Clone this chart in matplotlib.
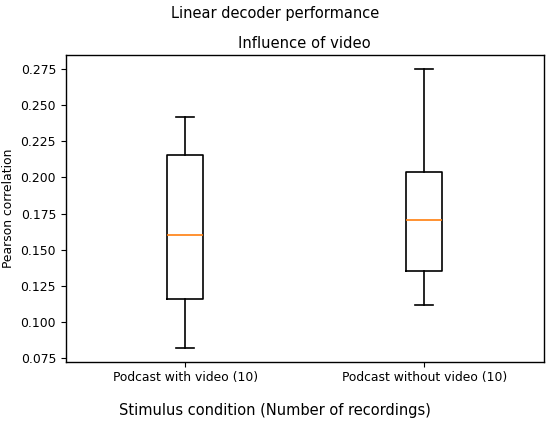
import matplotlib
matplotlib.use("Agg")
import matplotlib.pyplot as plt

# box statistics
conditions = ["Podcast with video (10)", "Podcast without video (10)"]
medians = [0.160, 0.1703]
q1 = [0.1159, 0.1352]
q3 = [0.2153, 0.2037]
whisker_low = [0.0824, 0.1117]
whisker_high = [0.2420, 0.2748]

stats = []
for i, name in enumerate(conditions):
    stats.append({
        "label": name,
        "med": medians[i],
        "q1": q1[i],
        "q3": q3[i],
        "whislo": whisker_low[i],
        "whishi": whisker_high[i],
        "fliers": [],
    })

fig = plt.figure(figsize=(5.5, 4.24), dpi=100)
ax = fig.add_axes([0.1195, 0.147, 0.8695, 0.723])
lw = 1.2
ax.bxp(stats, showfliers=False,
       boxprops={"linewidth": lw}, whiskerprops={"linewidth": lw},
       capprops={"linewidth": lw}, medianprops={"linewidth": lw})
for sp in ax.spines.values():
    sp.set_linewidth(1.0)

ax.set_title("Influence of video", fontsize=10.6, pad=5)
ax.set_ylabel("Pearson correlation", fontsize=8.9)
ax.tick_params(labelsize=8.9)
fig.suptitle("Linear decoder performance", fontsize=10.5, y=0.987)
fig.supxlabel("Stimulus condition (Number of recordings)", fontsize=10.5, y=0.013)

fig.savefig("out.png", dpi=100)
